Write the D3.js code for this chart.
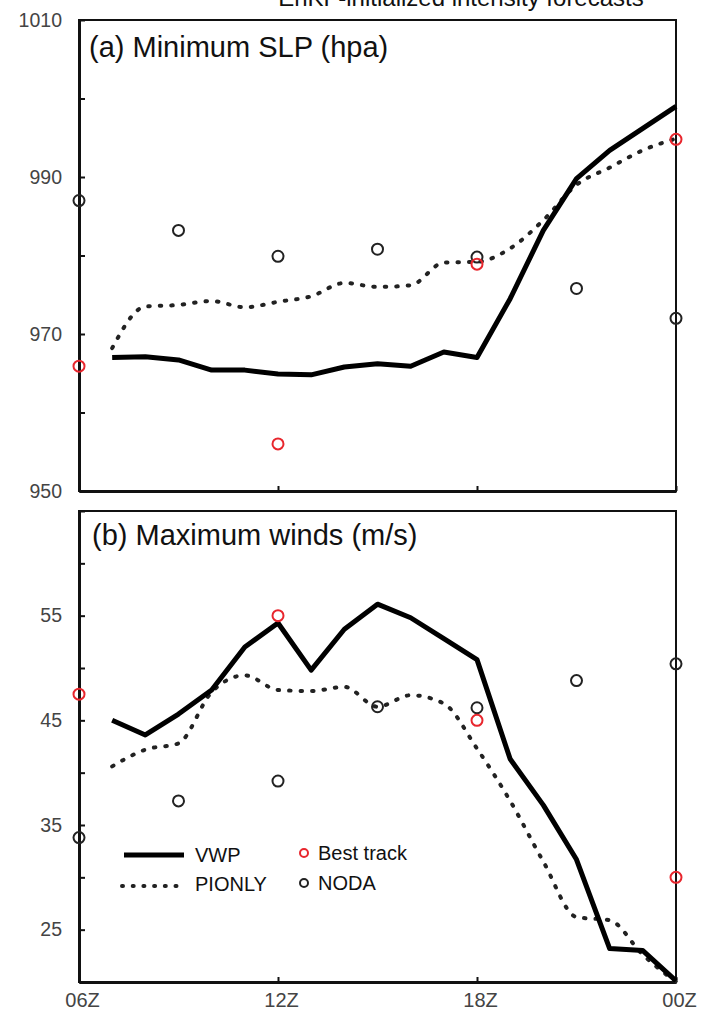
<!DOCTYPE html>
<html>
<head>
<meta charset="utf-8">
<script src="https://cdn.jsdelivr.net/npm/d3@7"></script>
<style>
  body { margin: 0; background: #fff; }
  svg { display: block; font-family: "Liberation Sans", Arial, sans-serif; }
</style>
</head>
<body>
<div id="chart"></div>
<script>
// forecast hours after 06Z (lines are hourly from 07Z)
const lineHours = [1, 2, 3, 4, 5, 6, 7, 8, 9, 10, 11, 12, 13, 14, 15, 16, 17, 18];
const bestHours = [0, 6, 12, 18];
const nodaHours = [0, 3, 6, 9, 12, 15, 18];

const xTicks      = [0, 6, 12, 18];
const xTickLabels = ["06Z", "12Z", "18Z", "00Z"];

// (a) minimum SLP
const slpVWP    = [967.0, 967.1, 966.7, 965.4, 965.4, 964.9, 964.8, 965.8, 966.2, 965.9, 967.7, 967.0, 974.5, 983.2, 989.8, 993.4, 996.2, 999.0];
const slpPIONLY = [968.2, 973.5, 973.7, 974.2, 973.4, 974.1, 974.8, 976.5, 976.0, 976.2, 979.1, 979.2, 980.9, 984.5, 989.0, 991.2, 993.4, 994.9];
const slpBest   = [965.9, 956.0, 978.9, 994.8];
const slpNODA   = [987.0, 983.2, 979.9, 980.8, 979.8, 975.8, 972.0];
const slpTicks  = [950, 960, 970, 980, 990, 1000, 1010];
const slpLabels = [950, 970, 990, 1010];

// (b) maximum winds
const windVWP    = [45.0, 43.6, 45.6, 47.9, 52.0, 54.3, 49.8, 53.7, 56.1, 54.8, 52.8, 50.8, 41.3, 36.9, 31.7, 23.2, 23.0, 20.1];
const windPIONLY = [40.6, 42.2, 42.8, 47.7, 49.3, 47.9, 47.8, 48.2, 46.3, 47.4, 46.6, 42.3, 37.3, 31.5, 26.2, 25.9, 22.6, 20.0];
const windBest   = [47.5, 55.0, 45.0, 30.0];
const windNODA   = [33.8, 37.3, 39.2, 46.3, 46.2, 48.8, 50.4];
const windTicks  = [20, 25, 30, 35, 40, 45, 50, 55, 60, 65];
const windLabels = [25, 35, 45, 55];

const W = 708, H = 1011;
const X0 = 79, X1 = 676;
const RED = "#e8262d", INK = "#111", GRAY = "#444";

const svg = d3.select("#chart").append("svg")
  .attr("width", W)
  .attr("height", H);

// title, cut off at the top edge as in the figure
svg.append("text")
  .attr("x", 461)
  .attr("y", 6)
  .attr("text-anchor", "middle")
  .style("font-size", "24px")
  .style("fill", INK)
  .text("EnKF-initialized intensity forecasts");

const x = d3.scaleLinear().domain([0, 18]).range([X0, X1]);

const zip = (hs, vs) => hs.map((h, i) => ({ h, v: vs[i] }));

function drawPanel(p) {
  const y = d3.scaleLinear().domain(p.domain).range([p.bottom, p.top]);
  const g = svg.append("g");

  // frame
  g.append("rect")
    .attr("x", X0).attr("y", p.top)
    .attr("width", X1 - X0).attr("height", p.bottom - p.top)
    .attr("fill", "none")
    .attr("stroke", INK)
    .attr("stroke-width", 2);

  // y axis, ticks pointing inward
  const yAxis = d3.axisLeft(y)
    .tickValues(p.yTicks)
    .tickSize(-6)
    .tickSizeOuter(0)
    .tickPadding(17)
    .tickFormat(d => p.yLabels.includes(d) ? d : "");
  const ya = g.append("g")
    .attr("transform", `translate(${X0},0)`)
    .call(yAxis);
  ya.select(".domain").attr("stroke", INK).attr("stroke-width", 3);
  ya.selectAll(".tick line").attr("stroke", INK).attr("stroke-width", 2);
  ya.selectAll("text")
    .attr("font-family", "Liberation Sans, Arial, sans-serif")
    .style("font-size", "19.5px")
    .style("fill", GRAY);

  // x axis
  const xAxis = d3.axisBottom(x)
    .tickValues(xTicks)
    .tickSize(-5)
    .tickSizeOuter(0)
    .tickPadding(11)
    .tickFormat((d, i) => p.xLabels ? xTickLabels[i] : "");
  const xa = g.append("g")
    .attr("transform", `translate(0,${p.bottom})`)
    .call(xAxis);
  xa.select(".domain").attr("stroke", INK).attr("stroke-width", 3);
  xa.selectAll(".tick line").attr("stroke", INK).attr("stroke-width", 2);
  xa.selectAll("text")
    .attr("font-family", "Liberation Sans, Arial, sans-serif")
    .attr("dx", 3)
    .style("font-size", "20px")
    .style("fill", GRAY);

  // panel label
  g.append("text")
    .attr("x", p.labelX)
    .attr("y", p.labelY)
    .style("font-size", "29px")
    .style("fill", INK)
    .text(p.label);

  const line = d3.line()
    .x(d => x(d.h))
    .y(d => y(d.v));

  g.append("path")
    .datum(zip(lineHours, p.pionly))
    .attr("fill", "none")
    .attr("stroke", "#222")
    .attr("stroke-width", 4)
    .attr("stroke-linecap", "round")
    .attr("stroke-dasharray", "1.5,10")
    .attr("d", line.curve(d3.curveMonotoneX));

  g.append("path")
    .datum(zip(lineHours, p.vwp))
    .attr("fill", "none")
    .attr("stroke", "#000")
    .attr("stroke-width", 5)
    .attr("stroke-linejoin", "round")
    .attr("d", line.curve(d3.curveLinear));

  g.selectAll(".noda")
    .data(zip(nodaHours, p.noda))
    .join("circle")
    .attr("cx", d => x(d.h))
    .attr("cy", d => y(d.v))
    .attr("r", 5.5)
    .attr("fill", "none")
    .attr("stroke", "#222")
    .attr("stroke-width", 2);

  g.selectAll(".best")
    .data(zip(bestHours, p.best))
    .join("circle")
    .attr("cx", d => x(d.h))
    .attr("cy", d => y(d.v))
    .attr("r", 5.5)
    .attr("fill", "none")
    .attr("stroke", RED)
    .attr("stroke-width", 2);

  return g;
}

drawPanel({
  top: 20, bottom: 491, domain: [950, 1010],
  yTicks: slpTicks, yLabels: slpLabels, xLabels: false,
  label: "(a) Minimum SLP (hpa)", labelX: 89, labelY: 57,
  vwp: slpVWP, pionly: slpPIONLY, best: slpBest, noda: slpNODA
});

const gb = drawPanel({
  top: 511, bottom: 982, domain: [20, 65],
  yTicks: windTicks, yLabels: windLabels, xLabels: true,
  label: "(b) Maximum winds (m/s)", labelX: 92, labelY: 545,
  vwp: windVWP, pionly: windPIONLY, best: windBest, noda: windNODA
});

// legend
const legendFont = "20px";
gb.append("line")
  .attr("x1", 124).attr("x2", 184).attr("y1", 855).attr("y2", 855)
  .attr("stroke", "#000").attr("stroke-width", 5);
gb.append("text").attr("x", 195).attr("y", 862)
  .style("font-size", legendFont).style("fill", INK).text("VWP");

gb.append("line")
  .attr("x1", 122).attr("x2", 186).attr("y1", 886).attr("y2", 886)
  .attr("stroke", "#222").attr("stroke-width", 4)
  .attr("stroke-linecap", "round")
  .attr("stroke-dasharray", "1,9.7");
gb.append("text").attr("x", 195).attr("y", 891)
  .style("font-size", legendFont).style("fill", INK).text("PIONLY");

gb.append("circle").attr("cx", 304).attr("cy", 853).attr("r", 4)
  .attr("fill", "none").attr("stroke", RED).attr("stroke-width", 2);
gb.append("text").attr("x", 318).attr("y", 860)
  .style("font-size", legendFont).style("fill", INK).text("Best track");

gb.append("circle").attr("cx", 304).attr("cy", 883).attr("r", 4)
  .attr("fill", "none").attr("stroke", "#222").attr("stroke-width", 2);
gb.append("text").attr("x", 318).attr("y", 890)
  .style("font-size", legendFont).style("fill", INK).text("NODA");
</script>
</body>
</html>
